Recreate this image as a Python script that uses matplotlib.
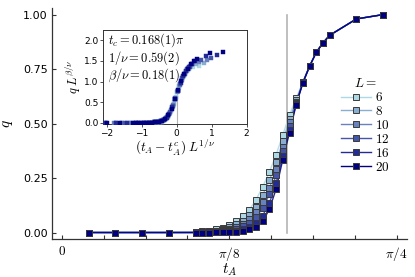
import numpy as np
import matplotlib
matplotlib.use("Agg")
import matplotlib.pyplot as plt
from matplotlib.colors import to_rgb
from matplotlib.lines import Line2D

plt.rcParams['mathtext.fontset'] = 'cm'
plt.rcParams['font.family'] = ['DejaVu Sans']

# ---- data ----
L_values = [6, 8, 10, 12, 16, 20]
t_over_pi = [0.02, 0.04, 0.06, 0.08, 0.10, 0.105, 0.11, 0.115, 0.12, 0.125,
             0.13, 0.135, 0.14, 0.145, 0.15, 0.155, 0.16, 0.165, 0.17, 0.175,
             0.18, 0.185, 0.19, 0.195, 0.20, 0.22, 0.24]
q_L6  = [0, 0, 0, 0, 0.002, 0.005, 0.008, 0.014, 0.022, 0.034, 0.052, 0.074, 0.105, 0.150,
         0.210, 0.278, 0.357, 0.448, 0.540, 0.615, 0.692, 0.765, 0.828, 0.871, 0.905, 0.980, 1.0]
q_L8  = [0, 0, 0, 0, 0.001, 0.003, 0.005, 0.009, 0.015, 0.024, 0.037, 0.055, 0.080, 0.118,
         0.172, 0.240, 0.322, 0.418, 0.520, 0.606, 0.690, 0.764, 0.827, 0.871, 0.905, 0.980, 1.0]
q_L10 = [0, 0, 0, 0, 0.0, 0.002, 0.003, 0.006, 0.010, 0.016, 0.026, 0.040, 0.060, 0.092,
         0.140, 0.205, 0.290, 0.393, 0.505, 0.600, 0.689, 0.764, 0.827, 0.870, 0.905, 0.980, 1.0]
q_L12 = [0, 0, 0, 0, 0.0, 0.001, 0.002, 0.004, 0.006, 0.010, 0.017, 0.028, 0.044, 0.070,
         0.112, 0.175, 0.262, 0.372, 0.490, 0.595, 0.688, 0.763, 0.827, 0.870, 0.905, 0.980, 1.0]
q_L16 = [0, 0, 0, 0, 0.0, 0.0, 0.001, 0.002, 0.003, 0.005, 0.009, 0.016, 0.027, 0.045,
         0.078, 0.135, 0.228, 0.350, 0.472, 0.590, 0.687, 0.763, 0.827, 0.870, 0.905, 0.980, 1.0]
q_L20 = [0, 0, 0, 0, 0.0, 0.0, 0.0, 0.001, 0.001, 0.002, 0.004, 0.009, 0.016, 0.027,
         0.052, 0.107, 0.200, 0.335, 0.458, 0.587, 0.687, 0.763, 0.827, 0.870, 0.905, 0.980, 1.0]
q_all = [q_L6, q_L8, q_L10, q_L12, q_L16, q_L20]

tc_over_pi = 0.168
inv_nu = 0.59
beta_nu = 0.18

x_tick_labels = ['$0$', '', '', '', r'$\pi/8$', '', '', '', r'$\pi/4$']
y_ticks = [0.0, 0.25, 0.5, 0.75, 1.0]
y_tick_labels = ['0.00', '0.25', '0.50', '0.75', '1.00']

# ---- colours ----
c0 = np.array(to_rgb('#add8e6'))
c1 = np.array(to_rgb('#000080'))
colors = [tuple(c0 + (c1 - c0) * k / 5) for k in range(6)]

fig = plt.figure(figsize=(4.15, 2.77), dpi=100)
ax = fig.add_axes([0.125, 0.137, 0.855, 0.834])

t = np.array(t_over_pi) * np.pi
for L, q, c in zip(L_values, q_all, colors):
    ax.plot(t, q, '-', color=c, lw=1.0, alpha=0.85, zorder=2)
    ax.plot(t, q, 's', color=c, ms=4.6, mec='#3a3a3a', mew=0.7, zorder=3,
            label=f'${L}$')

ax.plot([tc_over_pi * np.pi] * 2, [0, 1.0], color='#b4b4b4', lw=1.2, zorder=1)

ax.set_xlim(-0.0235, 0.809)
ax.set_ylim(-0.03, 1.03)
xt = np.arange(9) * np.pi / 32
ax.set_xticks(xt)
ax.set_xticklabels(x_tick_labels, fontsize=9.5)
ax.set_yticks(y_ticks)
ax.set_yticklabels(y_tick_labels, fontsize=8)
ax.tick_params(direction='in', length=3, color='#333333', width=0.8, pad=3)
ax.tick_params(axis='x', pad=4)
for s in ['top', 'right']:
    ax.spines[s].set_visible(False)
for s in ['left', 'bottom']:
    ax.spines[s].set_color('#333333')
    ax.spines[s].set_linewidth(0.9)
ax.set_xlabel('$t_A$', fontsize=11, labelpad=-1)
ax.set_ylabel('$q$', fontsize=11, labelpad=6)

handles = [Line2D([], [], color=c, lw=1.0, marker='s', ms=4.6, mfc=c, mec='#3a3a3a', mew=0.7)
           for c in colors]
leg = fig.legend(handles, [f'${L}$' for L in L_values], title='$L =$',
                 loc='upper left', bbox_to_anchor=(0.805, 0.745), frameon=False,
                 fontsize=9.5, title_fontsize=9.5, handlelength=2.3, handletextpad=0.3,
                 labelspacing=0.07, borderpad=0.0)

# ---- inset ----
axi = fig.add_axes([0.249, 0.552, 0.345, 0.340])
for L, q, c in zip(L_values, q_all, colors):
    xs = (t - tc_over_pi * np.pi) * L ** inv_nu
    ys = np.array(q) * L ** beta_nu
    axi.plot(xs, ys, 's', color=c, ms=2.3, mec=c, mew=0.3, zorder=3)
axi.plot([0, 0], [0, 0.95], color='#b4b4b4', lw=0.8, zorder=1)
axi.set_xlim(-2.1, 2.0)
axi.set_ylim(-0.03, 2.25)
axi.set_xticks([-2, -1, 0, 1, 2])
axi.set_yticks([0.0, 0.5, 1.0, 1.5, 2.0])
axi.set_xticklabels(['\u22122', '\u22121', '0', '1', '2'])
axi.set_yticklabels(['0.0', '0.5', '1.0', '1.5', '2.0'])
axi.tick_params(labelsize=6.5, length=2, width=0.6, pad=1.5, color='#333333')
for s in axi.spines.values():
    s.set_linewidth(0.7)
    s.set_color('#333333')
axi.set_xlabel(r'$(t_A - t_A^c)\;L^{1/\nu}$', fontsize=9.5, labelpad=0)
axi.set_ylabel(r'$q\;L^{\beta/\nu}$', fontsize=9, labelpad=1)
axi.text(0.03, 0.985, r'$t_c = 0.168(1)\pi$' + '\n' + r'$1/\nu = 0.59(2)$' + '\n' + r'$\beta/\nu = 0.18(1)$',
         transform=axi.transAxes, ha='left', va='top', fontsize=9, linespacing=0.98)

fig.savefig('out.png', dpi=100)
